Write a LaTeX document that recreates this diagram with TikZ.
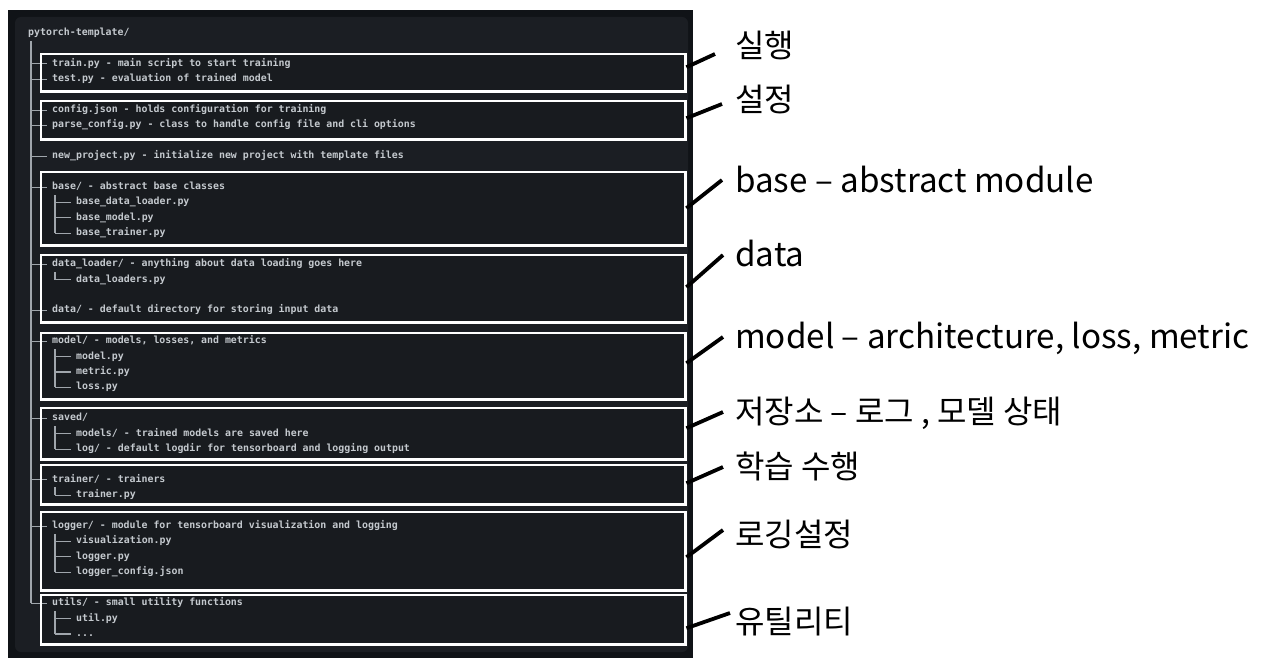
\documentclass[tikz,border=0pt]{standalone}
\usepackage{fontspec}
\setmonofont{DejaVu Sans Mono}
\newfontfamily\krfont{Noto Sans CJK KR}
\usetikzlibrary{calc}
\definecolor{paneldark}{HTML}{101317}
\definecolor{panelbg}{HTML}{1B1E23}
\definecolor{boxfill}{HTML}{181B1F}
\definecolor{codetext}{HTML}{C4C9CE}
\definecolor{treecol}{HTML}{A0A6AC}
\begin{document}
\begin{tikzpicture}[x=1pt,y=-1pt,
  codeline/.style={anchor=west, inner sep=0pt, text height=7.2pt, text depth=2.4pt,
    font=\ttfamily\bfseries\fontsize{9.9pt}{12pt}\selectfont, text=codetext},
  gbox/.style={fill=boxfill, anchor=north west, minimum width=644pt, inner sep=0pt, draw=none},
  gboxline/.style={draw=white, line width=2.6pt},
  rlabel/.style={anchor=base west, inner sep=0pt, font=\krfont\fontsize{32pt}{38pt}\selectfont, text=black},
  elabel/.style={rlabel, font=\krfont\fontsize{33.2pt}{38pt}\selectfont},
  conn/.style={line width=3.8pt, black},
  treeln/.style={treecol, line width=1.1pt}]
\useasboundingbox (0,0) rectangle (1271,669);
\fill[white] (0,0) rectangle (1271,669);
% panel
\fill[paneldark] (8,10) rectangle (693,658);
\fill[panelbg, rounded corners=6pt] (15,17) rectangle (688,652);
% box fills
\node[gbox, minimum height=37pt] (b1) at (41,54) {};
\node[gbox, minimum height=38pt] (b2) at (41,101) {};
\node[gbox, minimum height=73pt] (b3) at (41,172) {};
\node[gbox, minimum height=67pt] (b4) at (41,255) {};
\node[gbox, minimum height=66pt] (b5) at (41,333) {};
\node[gbox, minimum height=51pt] (b6) at (41,408) {};
\node[gbox, minimum height=39pt] (b7) at (41,465) {};
\node[gbox, minimum height=78pt] (b8) at (41,512) {};
\node[gbox, minimum height=49pt] (b9) at (41,595) {};
% tree lines
\draw[treeln] (31,41) -- (31,603.2);
\foreach \yy in {63.8,79.2,110.1,125.5,156.3,187.1,264.2,310.4,341.2,418.3,479.9,526.1,603.2}
  \draw[treeln] (31,\yy) -- (47,\yy);
\draw[treeln] (55,195) -- (55,233.3);
\draw[treeln] (55,272) -- (55,279.6);
\draw[treeln] (55,349) -- (55,387.4);
\draw[treeln] (55,426) -- (55,449.1);
\draw[treeln] (55,487) -- (55,495.3);
\draw[treeln] (55,534) -- (55,572.4);
\draw[treeln] (55,611) -- (55,634.0);
\foreach \yy in {202.5,217.9,233.3,279.6,356.6,372.0,387.4,433.7,449.1,495.3,541.5,556.9,572.4,618.6,634.0}
  \draw[treeln] (55,\yy) -- (71,\yy);
% code text
\node[codeline] (t0) at (28,33.0) {pytorch-template/};
\node[codeline] (t2) at (52,63.8) {train.py - main script to start training};
\node[codeline] (t3) at (52,79.2) {test.py - evaluation of trained model};
\node[codeline] (t5) at (52,110.1) {config.json - holds configuration for training};
\node[codeline] (t6) at (52,125.5) {parse\_config.py - class to handle config file and cli options};
\node[codeline] (t8) at (52,156.3) {new\_project.py - initialize new project with template files};
\node[codeline] (t10) at (52,187.1) {base/ - abstract base classes};
\node[codeline] (t11) at (76,202.5) {base\_data\_loader.py};
\node[codeline] (t12) at (76,217.9) {base\_model.py};
\node[codeline] (t13) at (76,233.3) {base\_trainer.py};
\node[codeline] (t15) at (52,264.2) {data\_loader/ - anything about data loading goes here};
\node[codeline] (t16) at (76,279.6) {data\_loaders.py};
\node[codeline] (t18) at (52,310.4) {data/ - default directory for storing input data};
\node[codeline] (t20) at (52,341.2) {model/ - models, losses, and metrics};
\node[codeline] (t21) at (76,356.6) {model.py};
\node[codeline] (t22) at (76,372.0) {metric.py};
\node[codeline] (t23) at (76,387.4) {loss.py};
\node[codeline] (t25) at (52,418.3) {saved/};
\node[codeline] (t26) at (76,433.7) {models/ - trained models are saved here};
\node[codeline] (t27) at (76,449.1) {log/ - default logdir for tensorboard and logging output};
\node[codeline] (t29) at (52,479.9) {trainer/ - trainers};
\node[codeline] (t30) at (76,495.3) {trainer.py};
\node[codeline] (t32) at (52,526.1) {logger/ - module for tensorboard visualization and logging};
\node[codeline] (t33) at (76,541.5) {visualization.py};
\node[codeline] (t34) at (76,556.9) {logger.py};
\node[codeline] (t35) at (76,572.4) {logger\_config.json};
\node[codeline] (t37) at (52,603.2) {utils/ - small utility functions};
\node[codeline] (t38) at (76,618.6) {util.py};
\node[codeline] (t39) at (76,634.0) {...};
% box outlines
\foreach \b in {b1,b2,b3,b4,b5,b6,b7,b8,b9}
  \draw[gboxline] (\b.north west) rectangle (\b.south east);
% labels
\node[rlabel] (l1) at (735,58) {실행};
\node[rlabel] (l2) at (735,111) {설정};
\node[elabel] (l3) at (735,192) {base – abstract module};
\node[elabel] (l4) at (735,266) {data};
\node[elabel] (l5) at (735,348) {model – architecture, loss, metric};
\node[rlabel] (l6) at (735,423) {저장소 – 로그 , 모델 상태};
\node[rlabel] (l7) at (735,478) {학습 수행};
\node[rlabel] (l8) at (735,546) {로깅설정};
\node[rlabel] (l9) at (735,633) {유틸리티};
% connector ends
\coordinate (e1) at (715,54);
\coordinate (e2) at (722,104);
\coordinate (e3) at (722,180);
\coordinate (e4) at (723,255);
\coordinate (e5) at (723,337);
\coordinate (e6) at (723,412);
\coordinate (e7) at (723,467);
\coordinate (e8) at (723,530);
\coordinate (e9) at (730,613);
\draw[conn] (b1.east) ++(1,-5.5) -- (e1);
\draw[conn] (b2.east) ++(1,-2) -- (e2);
\draw[conn] (b3.east) ++(1,-0.5) -- (e3);
\draw[conn] (b4.east) ++(1,-1.5) -- (e4);
\draw[conn] (b5.east) ++(1,-3) -- (e5);
\draw[conn] (b6.east) ++(1,-5.5) -- (e6);
\draw[conn] (b7.east) ++(1,-1.5) -- (e7);
\draw[conn] (b8.east) ++(1,6) -- (e8);
\draw[conn] (b9.east) ++(1,8.5) -- (e9);
\end{tikzpicture}
\end{document}
